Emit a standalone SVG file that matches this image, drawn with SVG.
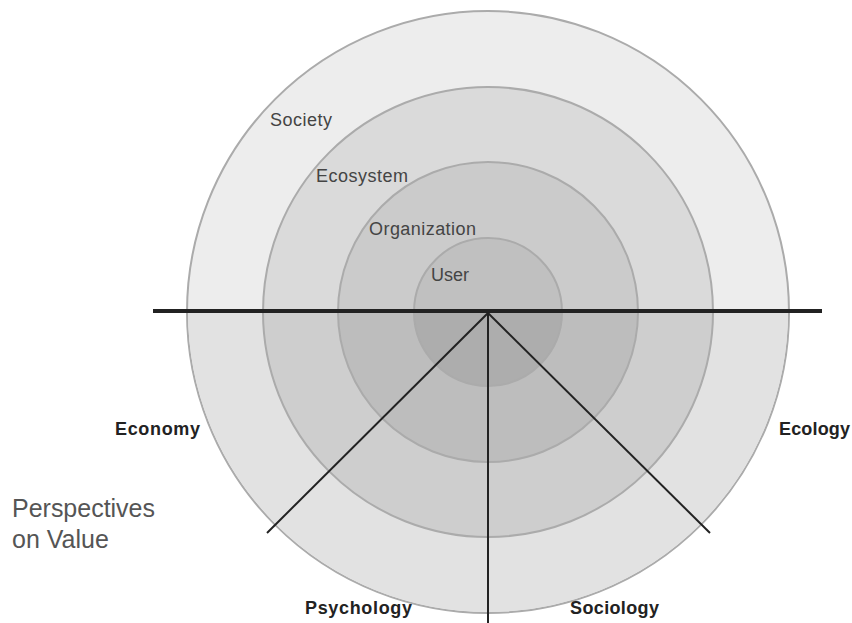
<svg xmlns="http://www.w3.org/2000/svg" width="852" height="623" viewBox="0 0 852 623">
<style>
.ring{stroke:#ababab;stroke-width:2}
.lbl{font-family:"Liberation Sans",Arial,sans-serif;font-size:18px;fill:#444}
.b{font-family:"Liberation Sans",Arial,sans-serif;font-size:18px;font-weight:bold;fill:#222}
.big{font-family:"Liberation Sans",Arial,sans-serif;font-size:25px;fill:#555}
.ln{stroke:#222;stroke-width:2;fill:none}
</style>
<defs>
<clipPath id="lower"><rect x="0" y="312" width="852" height="311"/></clipPath>
</defs>
<rect width="852" height="623" fill="#fff"/>
<g id="society">
<circle class="ring" cx="488" cy="312" r="301" fill="#ededed"/>
<text class="lbl" x="270" y="126" textLength="62">Society</text>
</g>
<g id="ecosystem">
<circle class="ring" cx="488" cy="312" r="225" fill="#dadada"/>
<text class="lbl" x="316" y="182" textLength="92">Ecosystem</text>
</g>
<g id="organization">
<circle class="ring" cx="488" cy="312" r="150" fill="#cbcbcb"/>
<text class="lbl" x="369" y="235" textLength="107">Organization</text>
</g>
<g id="user">
<circle class="ring" cx="488" cy="312" r="74" fill="#c0c0c0"/>
<text class="lbl" x="431" y="281" textLength="38">User</text>
</g>
<g id="lower-half" clip-path="url(#lower)">
<circle cx="488" cy="312" r="300" fill="#e2e2e2"/>
<circle class="ring" cx="488" cy="312" r="225" fill="#cecece"/>
<circle class="ring" cx="488" cy="312" r="150" fill="#bdbdbd"/>
<circle class="ring" cx="488" cy="312" r="74" fill="#adadad"/>
</g>
<g id="connectors">
<line x1="153" y1="311" x2="822" y2="311" stroke="#222" stroke-width="4"/>
<line class="ln" x1="488" y1="313" x2="267" y2="533"/>
<line class="ln" x1="488" y1="313" x2="488" y2="623"/>
<line class="ln" x1="488" y1="313" x2="710" y2="533"/>
</g>
<g id="economy"><text class="b" x="115" y="435" textLength="85">Economy</text></g>
<g id="ecology"><text class="b" x="779" y="435" textLength="71">Ecology</text></g>
<g id="psychology"><text class="b" x="305" y="614" textLength="107">Psychology</text></g>
<g id="sociology"><text class="b" x="570" y="614" textLength="89">Sociology</text></g>
<g id="title">
<text class="big" x="12" y="517" textLength="143">Perspectives</text>
<text class="big" x="12" y="548">on Value</text>
</g>
</svg>
